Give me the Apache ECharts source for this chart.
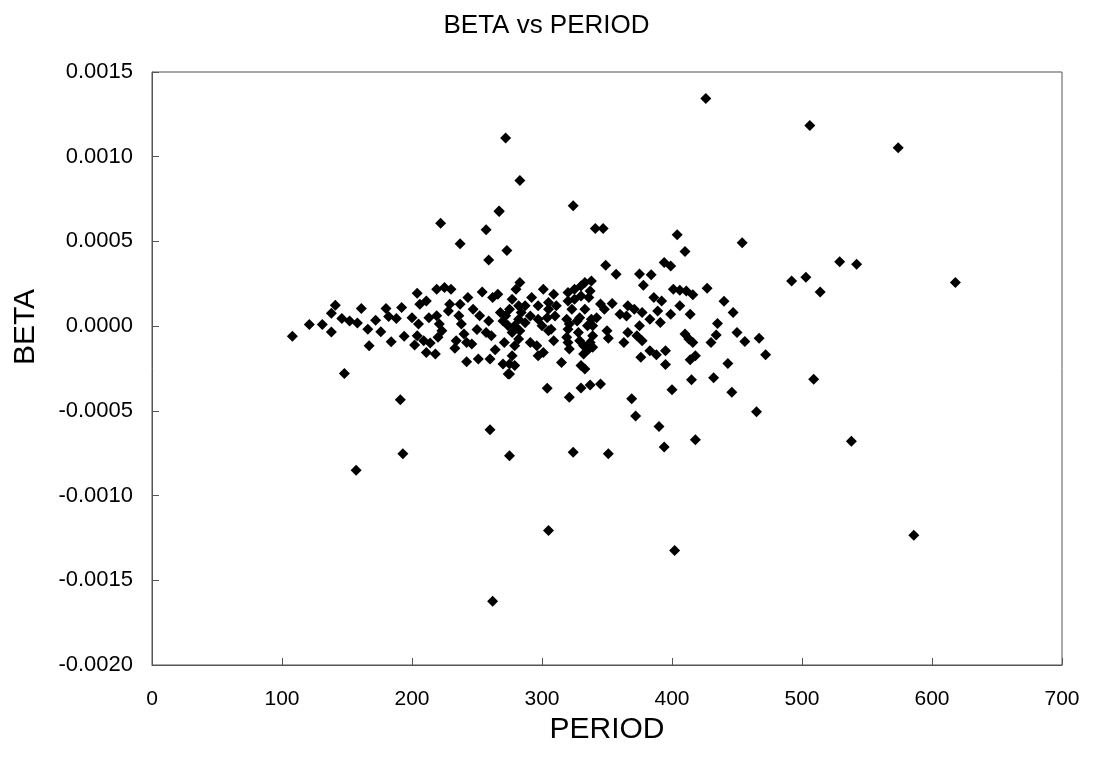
<!DOCTYPE html>
<html>
<head>
<meta charset="utf-8">
<script src="https://cdn.jsdelivr.net/npm/echarts@6/dist/echarts.min.js"></script>
<style>
  html, body { margin: 0; padding: 0; background: #ffffff; }
  #chart { width: 1093px; height: 757px; }
</style>
</head>
<body>
<div id="chart"></div>
<script>
// Axis settings
const xTicks = [0, 100, 200, 300, 400, 500, 600, 700];
const yTicks = [-0.0020, -0.0015, -0.0010, -0.0005, 0.0000, 0.0005, 0.0010, 0.0015];

// PERIOD / BETA observations, grouped by region of the period range
const shortPeriods = [
  [108, -0.00006], [121, 0.00001], [131, 0.00001], [138, -0.000035], [141, 0.000124],
  [138, 0.000076], [146, 0.000045], [152, 0.00003], [158, 0.000018], [161, 0.000104],
  [166, -0.000018], [167, -0.000116], [172, 0.000035], [176, -0.000033], [180, 0.000104],
  [182, 0.000057], [188, 0.000045], [184, -0.000092], [192, 0.00011], [194, -0.00006],
  [148, -0.00028], [191, -0.000435], [157, -0.000851], [193, -0.000753]
];

const periods200 = [
  [204, 0.000194], [200, 0.00005], [205, 0.000012], [204, -0.000057], [202, -0.000112],
  [206, 0.000129], [211, 0.000149], [213, 0.00005], [209, -0.000086], [214, -0.0001],
  [211, -0.000155], [218, -0.000165], [219, 0.000218], [225, 0.000228], [230, 0.000218],
  [229, 0.000129], [222, 0.000608], [237, 0.000486], [257, 0.000569], [259, 0.00039],
  [267, 0.000676], [273, 0.000447], [219, 0.000061], [221, 0.000012], [223, -0.000027],
  [220, -0.000066], [237, 0.000129], [243, 0.000169], [236, 0.000061], [238, 0.000012],
  [240, -0.000047], [234, -0.000086], [233, -0.000131], [242, -0.000096], [246, -0.000106],
  [242, -0.00021], [251, -0.000194], [260, -0.000194], [254, 0.000202], [247, 0.0001],
  [252, 0.000061], [259, 0.000031], [257, -0.000037], [261, -0.000057], [262, 0.000169],
  [266, 0.000188], [268, 0.00008], [270, 0.000031], [271, -0.000096], [270, -0.000224],
  [274, -0.000282], [260, -0.000612], [272, 0.00111], [283, 0.00086], [267, 0.00068],
  [275, -0.000765], [262, -0.001624], [228, 0.00009], [250, -0.00002], [264, -0.00014]
];

const periods300 = [
  [283, 0.000257], [280, 0.000218], [277, 0.000159], [275, 0.0001], [272, 0.000061],
  [282, 0.00012], [287, 0.00012], [284, 0.00008], [282, 0.00004], [279, 0.000002],
  [277, -0.000037], [274, 0.000002], [292, 0.000169], [297, 0.00012], [291, 0.00006],
  [287, 0.00002], [283, -0.000027], [301, 0.000218], [309, 0.000188], [305, 0.000139],
  [311, 0.00012], [305, 0.0001], [304, 0.00005], [310, 0.00006], [307, -0.000018],
  [297, 0.00004], [300, 0.000002], [282, -0.000076], [279, -0.000116], [277, -0.000175],
  [275, -0.000224], [279, -0.000233], [275, -0.000282], [291, -0.000096], [296, -0.000116],
  [297, -0.000175], [301, -0.000155], [305, -0.000027], [309, -0.000086], [315, -0.000214],
  [320, 0.000198], [325, 0.000218], [330, 0.000237], [333, 0.000257], [338, 0.000267],
  [337, 0.000208], [336, 0.000169], [325, 0.000159], [320, 0.000149], [330, 0.000178],
  [319, 0.00004], [321, 0.000012], [320, -0.000018], [319, -0.000066], [320, -0.000096],
  [321, -0.000135], [327, 0.000031], [328, -0.000037], [329, -0.000086], [332, -0.000116],
  [332, -0.000165], [336, -0.000135], [337, -0.000096], [339, -0.000057], [339, 0.000002],
  [338, 0.00004], [342, 0.00005], [335, 0.000002], [339, -0.000125], [330, -0.000233],
  [333, -0.000253], [323, 0.0001], [333, 0.0001], [329, 0.00005],
  [324, 0.00071], [341, 0.000576], [347, 0.000576], [349, 0.000359], [357, 0.000306],
  [345, 0.00013], [348, 0.0001], [354, 0.000133], [360, 0.00007], [365, 0.00006],
  [350, -0.000027], [351, -0.000072], [363, -0.000096], [366, -0.000037], [373, -0.000057],
  [377, -0.000086], [375, 0.000002], [371, 0.0001], [366, 0.00012], [377, 0.00008],
  [376, -0.000184], [383, -0.000145], [388, -0.000169], [395, -0.000145], [395, -0.000227],
  [383, 0.00004], [391, 0.000022], [389, 0.00009], [386, 0.000169], [392, 0.000149],
  [375, 0.000308], [384, 0.000304], [378, 0.000241], [394, 0.000375], [399, 0.000355],
  [304, -0.000367], [321, -0.000419], [330, -0.000365], [337, -0.000347], [345, -0.000341],
  [369, -0.000429], [372, -0.000531], [390, -0.000592], [394, -0.000713], [324, -0.000745],
  [351, -0.000753], [305, -0.001206], [400, -0.000375]
];

const periods400 = [
  [401, 0.000218], [406, 0.000212], [411, 0.000208], [416, 0.000186], [427, 0.000224],
  [440, 0.000147], [447, 0.00008], [406, 0.00012], [414, 0.00007], [399, 0.00007],
  [435, 0.000016], [434, -0.000053], [430, -0.000096], [410, -0.000047], [413, -0.000076],
  [416, -0.000096], [418, -0.000175], [414, -0.000198], [443, -0.00022], [432, -0.000304],
  [415, -0.000316], [418, -0.00067], [404, 0.00054], [410, 0.00044], [426, 0.001343],
  [402, -0.001324], [446, -0.00039], [454, 0.000492], [450, -0.000037], [456, -0.00009],
  [467, -0.000072], [472, -0.000169], [465, -0.000506], [492, 0.000267], [503, 0.000288],
  [514, 0.000202], [529, 0.00038], [542, 0.000365], [506, 0.001184], [509, -0.000314],
  [538, -0.00068], [574, 0.001053], [586, -0.001234], [618, 0.000257]
];

const allPoints = [].concat(shortPeriods, periods200, periods300, periods400);

const chart = echarts.init(document.getElementById('chart'), null, { renderer: 'canvas' });

const fontFamily = 'Liberation Sans, Arial, sans-serif';
const axisFont = { fontFamily: fontFamily, color: '#000000' };

chart.setOption({
  backgroundColor: '#ffffff',
  animation: false,
  title: {
    text: 'BETA vs PERIOD',
    left: 'center',
    top: 8,
    textStyle: { fontFamily: fontFamily, fontSize: 26, fontWeight: 'normal', color: '#000000' }
  },
  grid: {
    left: 152, right: 31, top: 72, bottom: 92,
    show: true, borderColor: '#555555', borderWidth: 1, backgroundColor: '#ffffff'
  },
  // vertical axis title, sitting beside the zero line
  graphic: [{
    type: 'text',
    x: 26,
    y: 327,
    rotation: Math.PI / 2,
    style: {
      text: 'BETA',
      font: '30px ' + fontFamily,
      fill: '#000000',
      align: 'center',
      verticalAlign: 'middle'
    }
  }],
  xAxis: {
    type: 'value',
    min: xTicks[0],
    max: xTicks[xTicks.length - 1],
    interval: 100,
    name: 'PERIOD',
    nameLocation: 'middle',
    nameGap: 40,
    nameTextStyle: Object.assign({ fontSize: 30 }, axisFont),
    axisLine: { show: true, onZero: false, lineStyle: { color: '#555555', width: 1 } },
    axisTick: { show: true, inside: true, length: 7, lineStyle: { color: '#555555' } },
    axisLabel: Object.assign({ fontSize: 21, margin: 24 }, axisFont),
    splitLine: { show: false }
  },
  yAxis: {
    type: 'value',
    min: yTicks[0],
    max: yTicks[yTicks.length - 1],
    interval: 0.0005,
    axisLine: { show: true, onZero: false, lineStyle: { color: '#555555', width: 1 } },
    axisTick: { show: true, inside: true, length: 7, lineStyle: { color: '#555555' } },
    axisLabel: Object.assign({ fontSize: 22, margin: 19, formatter: v => v.toFixed(4) }, axisFont),
    splitLine: { show: false }
  },
  series: [{
    type: 'scatter',
    symbol: 'diamond',
    symbolSize: 11,
    itemStyle: { color: '#000000', opacity: 1 },
    emphasis: { disabled: true },
    data: allPoints
  }]
});
</script>
</body>
</html>
